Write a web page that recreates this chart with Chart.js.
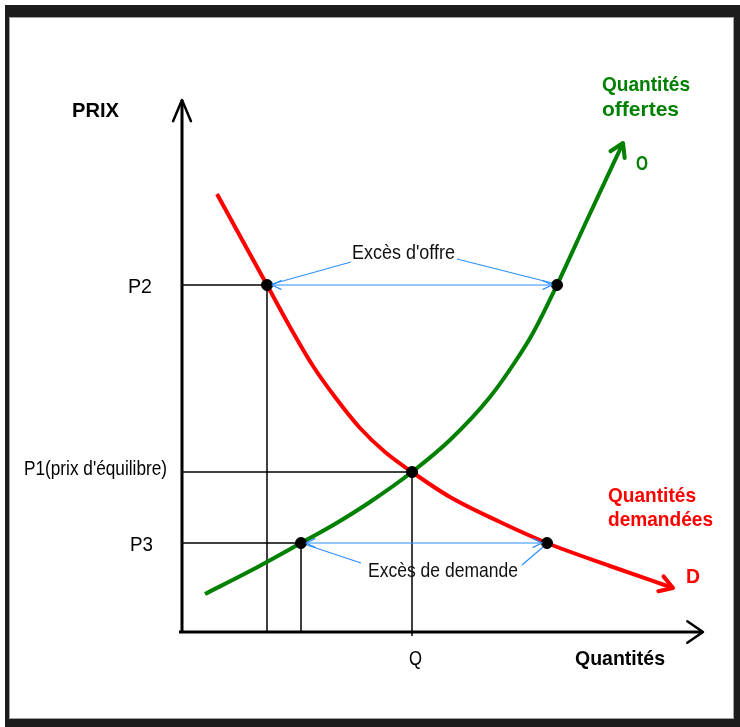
<!DOCTYPE html>
<html lang="fr">
<head>
  <meta charset="UTF-8" />
  <title>Offre et demande</title>
  <script src="https://cdn.jsdelivr.net/npm/chart.js"></script>
  <style>
    html, body { margin: 0; padding: 0; background: #fff; }
    #wrap { width: 740px; height: 727px; }
  </style>
</head>
<body>
<div id="wrap"><canvas id="marche" width="740" height="727"></canvas></div>

<script>
// courbes (quantité, prix)
const demandeQ = [3.5, 5.8, 8.5, 10.8, 13.1, 15.3, 17.8, 20.3, 23, 26.8, 31.8, 36.5, 42.8, 49.1];
const demandeP = [43.8, 39.6, 34.7, 30.5, 26.6, 23.5, 20.4, 18.0, 16, 13.5, 11.0, 8.9, 6.6, 4.4];
const offreQ = [2.3, 6.8, 11.9, 15.3, 18.8, 23, 26.8, 30.8, 33.3, 35.1, 37.5, 40.5, 44.1];
const offreP = [3.8, 6.1, 8.9, 10.8, 13.0, 16, 19.2, 23.5, 27.0, 29.9, 34.7, 41.2, 48.9];

// niveaux de prix et quantités remarquables
const prixNoms = ['P2', "P1(prix d'équilibre)", 'P3'];
const prixVals = [34.7, 16, 8.9];
const qDemandeP2 = 8.5, qOffreP2 = 37.5;   // à P2
const qOffreP3 = 11.9, qDemandeP3 = 36.5;  // à P3
const qEquilibre = 23;
const axeQmax = 52.1, axePmax = 53.2;

const pts = (xs, ys) => xs.map((x, i) => ({ x, y: ys[i] }));
const seg = (x1, y1, x2, y2) => [{ x: x1, y: y1 }, { x: x2, y: y2 }];

const noir = '#000', bleu = '#2b8fff', rouge = '#ff0000', vert = '#008000';

function guide(data, color, width, order) {
  return { type: 'line', data, borderColor: color, borderWidth: width, pointRadius: 0, order };
}

const datasets = [
  // lignes de repère noires
  guide(seg(0, prixVals[0], qDemandeP2, prixVals[0]), noir, 1.5, 10),
  guide(seg(0, prixVals[1], qEquilibre, prixVals[1]), noir, 1.5, 10),
  guide(seg(0, prixVals[2], qOffreP3, prixVals[2]), noir, 1.5, 10),
  guide(seg(qDemandeP2, 0, qDemandeP2, prixVals[0]), noir, 1.5, 10),
  guide(seg(qOffreP3, 0, qOffreP3, prixVals[2]), noir, 1.5, 10),
  guide(seg(qEquilibre, -0.4, qEquilibre, prixVals[1]), noir, 1.5, 10),
  // excès (bleu)
  guide(seg(qDemandeP2, prixVals[0], qOffreP2, prixVals[0]), bleu, 1.2, 9),
  guide(seg(qOffreP3, prixVals[2], qDemandeP3, prixVals[2]), bleu, 1.2, 9),
  // courbes
  { type: 'line', label: 'Demande', data: pts(demandeQ, demandeP), borderColor: rouge,
    borderWidth: 4, pointRadius: 0, cubicInterpolationMode: 'monotone', order: 5 },
  { type: 'line', label: 'Offre', data: pts(offreQ, offreP), borderColor: vert,
    borderWidth: 4, pointRadius: 0, cubicInterpolationMode: 'monotone', order: 4 },
  // points d'intersection
  { type: 'scatter', data: [
      { x: qDemandeP2, y: prixVals[0] }, { x: qOffreP2, y: prixVals[0] },
      { x: qEquilibre, y: prixVals[1] },
      { x: qOffreP3, y: prixVals[2] }, { x: qDemandeP3, y: prixVals[2] }
    ], pointRadius: 5.5, backgroundColor: noir, borderColor: noir, pointHoverRadius: 5.5, order: 1 }
];

function fleche(ctx, x1, y1, x2, y2, len, ang, color, width) {
  const a = Math.atan2(y2 - y1, x2 - x1);
  ctx.save();
  ctx.strokeStyle = color; ctx.lineWidth = width; ctx.lineCap = 'round'; ctx.lineJoin = 'round';
  ctx.beginPath();
  ctx.moveTo(x2 - len * Math.cos(a - ang), y2 - len * Math.sin(a - ang));
  ctx.lineTo(x2, y2);
  ctx.lineTo(x2 - len * Math.cos(a + ang), y2 - len * Math.sin(a + ang));
  ctx.stroke();
  ctx.restore();
}

// texte ajusté à une largeur donnée
function texte(ctx, str, x, y, font, color, largeur) {
  ctx.save();
  ctx.font = font; ctx.fillStyle = color; ctx.textBaseline = 'alphabetic'; ctx.textAlign = 'left';
  const w = ctx.measureText(str).width;
  const s = largeur ? largeur / w : 1;
  ctx.translate(x, y); ctx.scale(s, 1);
  ctx.fillText(str, 0, 0);
  ctx.restore();
}

const cadre = {
  id: 'cadre',
  beforeDraw(chart) {
    const ctx = chart.ctx;
    ctx.save();
    ctx.fillStyle = '#fff'; ctx.fillRect(0, 0, 740, 727);
    ctx.fillStyle = '#1c1c1c'; ctx.fillRect(5, 5, 735, 722);
    ctx.fillStyle = '#a0a0a0'; ctx.fillRect(9, 17, 725, 702);
    ctx.fillStyle = '#fff'; ctx.fillRect(10, 18, 723, 700);
    ctx.restore();
  },
  afterDatasetsDraw(chart) {
    const ctx = chart.ctx, sx = chart.scales.x, sy = chart.scales.y;
    const X = v => sx.getPixelForValue(v), Y = v => sy.getPixelForValue(v);

    // axes
    ctx.save();
    ctx.strokeStyle = noir; ctx.lineWidth = 3;
    ctx.beginPath();
    ctx.moveTo(X(0), Y(axePmax)); ctx.lineTo(X(0), Y(0) + 1.5);
    ctx.moveTo(X(-0.3), Y(0)); ctx.lineTo(X(axeQmax), Y(0));
    ctx.stroke();
    ctx.restore();
    fleche(ctx, X(0), Y(0), X(0), Y(axePmax), 23, 0.4, noir, 2.5);
    fleche(ctx, X(0), Y(0), X(axeQmax), Y(0), 19, 0.6, noir, 2.5);

    // flèches des courbes
    const n = demandeQ.length - 1, m = offreQ.length - 1;
    fleche(ctx, X(demandeQ[n - 1]), Y(demandeP[n - 1]), X(demandeQ[n]), Y(demandeP[n]), 15, 0.55, rouge, 4);
    fleche(ctx, X(offreQ[m - 1]), Y(offreP[m - 1]), X(offreQ[m]), Y(offreP[m]), 15, 0.55, vert, 4);

    // flèches bleues
    const yP2 = Y(prixVals[0]), yP3 = Y(prixVals[2]);
    fleche(ctx, X(qOffreP2), yP2, X(qDemandeP2) + 5, yP2, 10, 0.45, bleu, 1.2);
    fleche(ctx, X(qDemandeP2), yP2, X(qOffreP2) - 5, yP2, 10, 0.45, bleu, 1.2);
    fleche(ctx, X(qDemandeP3), yP3, X(qOffreP3) + 5, yP3, 10, 0.45, bleu, 1.2);
    fleche(ctx, X(qOffreP3), yP3, X(qDemandeP3) - 5, yP3, 10, 0.45, bleu, 1.2);

    // lignes de renvoi
    ctx.save();
    ctx.strokeStyle = bleu; ctx.lineWidth = 1.2;
    ctx.beginPath();
    ctx.moveTo(351, 262); ctx.lineTo(X(qDemandeP2) + 5, yP2 - 1);
    ctx.moveTo(457, 259); ctx.lineTo(X(qOffreP2) - 5, yP2 - 2);
    ctx.moveTo(361, 563); ctx.lineTo(X(qOffreP3) + 6, yP3 + 2);
    ctx.moveTo(522, 565); ctx.lineTo(X(qDemandeP3) - 4, yP3 + 4);
    ctx.stroke();
    ctx.restore();

    // textes
    const normal = '21px "Liberation Sans", Arial, sans-serif';
    const gras = 'bold 21px "Liberation Sans", Arial, sans-serif';
    texte(ctx, 'PRIX', 72, 117, 'bold 20px "Liberation Sans", Arial, sans-serif', noir, 47);
    texte(ctx, prixNoms[0], 128, Y(prixVals[0]) + 8, normal, noir, 24);
    texte(ctx, prixNoms[1], 24, Y(prixVals[1]) + 3, normal, noir, 143);
    texte(ctx, prixNoms[2], 130, Y(prixVals[2]) + 8, normal, noir, 23);
    texte(ctx, 'Q', X(qEquilibre) - 3, 665, normal, noir, 13);
    texte(ctx, 'Quantités', 575, 665, gras, noir, 90);
    texte(ctx, 'Excès d\'offre', 352, 259, normal, '#111', 103);
    texte(ctx, 'Excès de demande', 368, 577, normal, '#111', 150);
    texte(ctx, 'Quantités', 602, 91, gras, vert, 88);
    texte(ctx, 'offertes', 602, 116, gras, vert, 77);
    texte(ctx, 'O', 636, 170, gras, vert, 12);
    texte(ctx, 'Quantités', 608, 502, gras, rouge, 88);
    texte(ctx, 'demandées', 608, 526, gras, rouge, 105);
    texte(ctx, 'D', 686, 583, gras, rouge, 14);
  }
};

new Chart(document.getElementById('marche'), {
  type: 'line',
  data: { datasets },
  options: {
    responsive: false,
    animation: false,
    events: [],
    layout: { padding: 0, autoPadding: false },
    plugins: { legend: { display: false }, tooltip: { enabled: false } },
    scales: {
      x: { type: 'linear', display: false, min: -18.2, max: 55.8 },
      y: { type: 'linear', display: false, min: -9.5, max: 63.2 }
    },
    clip: false
  },
  plugins: [cadre]
});
</script>
</body>
</html>
